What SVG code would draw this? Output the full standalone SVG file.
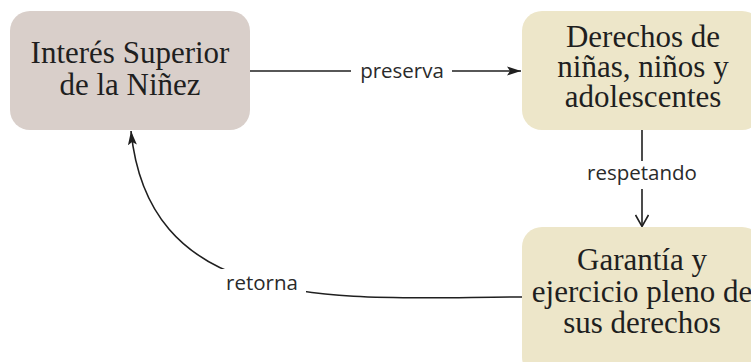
<svg xmlns="http://www.w3.org/2000/svg" width="751" height="362" viewBox="0 0 751 362">
  <defs>
    <style>
      .node-a { fill: #d9cfca; }
      .node-b { fill: #ede6c9; }
      .title { font-family: "Liberation Serif", "Times New Roman", serif; font-size: 31px; fill: #1f1f1f; text-anchor: middle; }
      .edge { fill: none; stroke: #1f1f1f; stroke-width: 1.6; }
      .label { font-family: "Open Sans", "Noto Sans", sans-serif; font-size: 20.5px; fill: #2a2a2a; text-anchor: middle; }
      .label-bg { fill: #ffffff; }
    </style>
    <marker id="arrow-solid" viewBox="0 0 14 10" refX="14" refY="5" markerWidth="14" markerHeight="10" markerUnits="userSpaceOnUse" orient="auto">
      <path d="M0,0.5 L14,5 L0,9.5 L3,5 Z" fill="#1f1f1f"/>
    </marker>
    <marker id="arrow-open" viewBox="0 0 14 14" refX="12" refY="7" markerWidth="14" markerHeight="14" markerUnits="userSpaceOnUse" orient="auto">
      <path d="M1,0.5 L12.5,7 L1,13.5" fill="none" stroke="#1f1f1f" stroke-width="1.6"/>
    </marker>
  </defs>

  <rect width="751" height="362" fill="#ffffff"/>

  <!-- connectors -->
  <g id="connectors">
    <g id="edge-preserva">
      <line class="edge" x1="250" y1="71" x2="521" y2="71" marker-end="url(#arrow-solid)"/>
      <rect class="label-bg" x="351" y="57" width="101" height="28"/>
      <text class="label" x="402" y="78">preserva</text>
    </g>
    <g id="edge-respetando">
      <line class="edge" x1="642" y1="130" x2="642" y2="226" marker-end="url(#arrow-open)"/>
      <rect class="label-bg" x="580" y="161" width="124" height="28"/>
      <text class="label" x="642" y="180">respetando</text>
    </g>
    <g id="edge-retorna">
      <path class="edge" d="M522,297 C350,297 150,320 131,131" marker-end="url(#arrow-solid)"/>
      <rect class="label-bg" x="219" y="269" width="87" height="28"/>
      <text class="label" x="262" y="290">retorna</text>
    </g>
  </g>

  <!-- nodes -->
  <g id="node-interes">
    <rect class="node-a" x="10" y="11" width="240" height="119" rx="20"/>
    <text class="title" x="130" y="63">Interés Superior</text>
    <text class="title" x="130" y="95">de la Niñez</text>
  </g>
  <g id="node-derechos">
    <rect class="node-b" x="522" y="11" width="240" height="119" rx="20"/>
    <text class="title" x="643" y="47">Derechos de</text>
    <text class="title" x="643" y="77">niñas, niños y</text>
    <text class="title" x="643" y="107">adolescentes</text>
  </g>
  <g id="node-garantia">
    <rect class="node-b" x="522" y="227" width="240" height="150" rx="20"/>
    <text class="title" x="642" y="270">Garantía y</text>
    <text class="title" x="642" y="302">ejercicio pleno de</text>
    <text class="title" x="642" y="333">sus derechos</text>
  </g>
</svg>
